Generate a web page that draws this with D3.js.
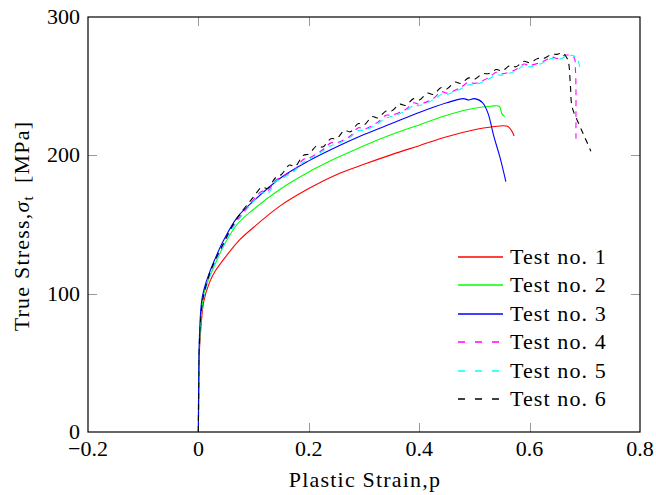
<!DOCTYPE html>
<html lang="en">
<head>
    <meta charset="utf-8">
    <style>
        body { margin: 0; background: #fff; }
        text { font-family: "Liberation Serif", "DejaVu Serif", serif; fill: #000; }
        .tick-label { font-size: 22px; }
        .legend-label { font-size: 22px; letter-spacing: 1.1px; }
        .title { font-size: 22px; letter-spacing: 1.2px; }
    </style>
    <script src="https://d3js.org/d3.v7.min.js"></script>
</head>
<body>
    <svg width="656" height="495"></svg>
    <script>
        // data, [strain, stress]
        var test1 = [[0,0],[0.001,40],[0.002,60],[0.005,78],[0.01,95],[0.02,108],[0.03,116],[0.05,127],[0.075,139],[0.1,148],[0.15,164],[0.2,176],[0.25,186],[0.3,193.5],[0.35,200.5],[0.4,207],[0.45,213.5],[0.5,218.5],[0.53,220.5],[0.56,221],[0.567,218],[0.572,214]];
        var test2 = [[0,0],[0.001,50],[0.003,72],[0.006,88],[0.01,100],[0.02,112],[0.03,121],[0.045,134],[0.07,150],[0.1,161],[0.15,176],[0.2,188],[0.25,198],[0.3,207],[0.35,215],[0.4,222],[0.45,229],[0.5,234],[0.53,235.5],[0.545,235.5],[0.55,230],[0.555,228]];
        var test3 = [[0,0],[0.001,55],[0.003,80],[0.006,95],[0.01,103],[0.018,113],[0.03,125],[0.045,138],[0.07,155],[0.1,167],[0.15,184],[0.2,196],[0.25,206],[0.3,215],[0.35,223],[0.4,231],[0.45,238],[0.48,241],[0.49,240],[0.5,241],[0.515,238],[0.525,230],[0.535,214],[0.546,199],[0.557,181]];
        var test4 = [[0,0],[0.001,48],[0.003,73],[0.006,89],[0.01,99],[0.02,113],[0.03,123],[0.045,135],[0.06,147],[0.08,158],[0.1,168],[0.115,174],[0.125,174],[0.14,182],[0.15,184],[0.175,190],[0.19,197],[0.2,198],[0.225,204],[0.24,209],[0.25,209],[0.275,214],[0.29,220],[0.3,219],[0.325,224],[0.34,229],[0.35,229],[0.375,233],[0.39,238],[0.4,237],[0.425,241],[0.44,246],[0.45,245],[0.475,249],[0.49,253],[0.5,252],[0.525,256],[0.54,260],[0.55,259],[0.575,262],[0.59,266],[0.6,265],[0.625,268],[0.64,271],[0.65,270],[0.665,272.5],[0.68,271],[0.683,262],[0.684,247],[0.684,230],[0.684,212]];
        var test5 = [[0,0],[0.001,47],[0.003,72],[0.006,88],[0.01,98],[0.02,112],[0.03,122],[0.045,134],[0.06,146],[0.08,157],[0.1,167],[0.115,173],[0.125,172],[0.14,181],[0.15,183],[0.175,189],[0.19,195],[0.2,197],[0.225,203],[0.24,207],[0.25,208],[0.275,213],[0.29,218],[0.3,218],[0.325,223],[0.34,227],[0.35,228],[0.375,232],[0.39,236],[0.4,236],[0.425,240],[0.44,244],[0.45,244],[0.475,248],[0.49,251],[0.5,251],[0.525,255],[0.54,258],[0.55,258],[0.575,261],[0.59,265],[0.6,264],[0.625,267],[0.64,270],[0.65,269],[0.67,272],[0.68,272],[0.688,268],[0.692,262]];
        var test6 = [[0,0],[0.001,50],[0.003,75],[0.006,90],[0.01,100],[0.02,114],[0.03,124],[0.045,136],[0.06,148],[0.08,160],[0.1,170],[0.115,177],[0.125,176],[0.14,184],[0.15,186],[0.165,193],[0.175,192],[0.19,200],[0.2,201],[0.215,207],[0.225,206],[0.24,212],[0.25,212],[0.265,218],[0.275,217],[0.29,223],[0.3,222],[0.315,228],[0.325,227],[0.34,232],[0.35,232],[0.365,237],[0.375,236],[0.39,241],[0.4,240],[0.415,245],[0.425,244],[0.44,249],[0.45,248],[0.465,253],[0.475,252],[0.49,256],[0.5,255],[0.515,259],[0.525,259],[0.54,262],[0.55,261],[0.565,265],[0.575,264],[0.59,268],[0.6,267],[0.615,270],[0.625,270],[0.64,273],[0.65,273],[0.66,274],[0.665,272],[0.67,268],[0.674,250],[0.677,235],[0.69,222],[0.7,213],[0.711,203]];

        var seriesNames = ["Test no. 1", "Test no. 2", "Test no. 3", "Test no. 4", "Test no. 5", "Test no. 6"];
        var seriesData = [test1, test2, test3, test4, test5, test6];
        var seriesColors = ["#ff0000", "#00ff00", "#0000ff", "#ff00ff", "#00ffff", "#000000"];
        var seriesDashed = [false, false, false, true, true, true];

        var xTicks = [-0.2, 0, 0.2, 0.4, 0.6, 0.8];
        var yTicks = [0, 100, 200, 300];

        var svg = d3.select("svg");
        // plot box (avoid "top", it's window.top)
        var pLeft = 88, pRight = 640, pTop = 17, pBottom = 432;

        var x = d3.scaleLinear().domain([-0.2, 0.8]).range([pLeft, pRight]);
        var y = d3.scaleLinear().domain([0, 300]).range([pBottom, pTop]);

        var tickLen = 9;

        // inward ticks on all four sides
        var ticks = svg.append("g").attr("stroke", "#999").attr("stroke-width", 1);
        xTicks.slice(1, -1).forEach(function(t) {
            var tx = Math.round(x(t)) + 0.5;
            ticks.append("line").attr("x1", tx).attr("x2", tx).attr("y1", pBottom).attr("y2", pBottom - tickLen);
            ticks.append("line").attr("x1", tx).attr("x2", tx).attr("y1", pTop).attr("y2", pTop + tickLen);
        });
        yTicks.slice(1, -1).forEach(function(t) {
            var ty = Math.round(y(t)) + 0.5;
            ticks.append("line").attr("x1", pLeft).attr("x2", pLeft + tickLen).attr("y1", ty).attr("y2", ty);
            ticks.append("line").attr("x1", pRight).attr("x2", pRight - tickLen).attr("y1", ty).attr("y2", ty);
        });

        var line = d3.line()
            .curve(d3.curveCatmullRom.alpha(0.5))
            .x(function(d) { return x(d[0]); })
            .y(function(d) { return y(d[1]); });

        svg.append("defs").append("clipPath").attr("id", "plot")
            .append("rect").attr("x", pLeft).attr("y", pTop).attr("width", pRight - pLeft).attr("height", pBottom - pTop);

        var plot = svg.append("g").attr("clip-path", "url(#plot)");
        seriesData.forEach(function(data, i) {
            plot.append("path")
                .datum(data)
                .attr("fill", "none")
                .attr("stroke", seriesColors[i])
                .attr("stroke-width", 1.1)
                .attr("stroke-dasharray", seriesDashed[i] ? "6,5" : null)
                .attr("d", line);
        });

        // frame
        svg.append("rect")
            .attr("x", pLeft).attr("y", pTop)
            .attr("width", pRight - pLeft).attr("height", pBottom - pTop)
            .attr("fill", "none").attr("stroke", "#000").attr("stroke-width", 1.2);

        // tick labels
        svg.append("g").selectAll("text")
            .data(xTicks).enter().append("text")
            .attr("class", "tick-label")
            .attr("x", function(d) { return x(d); })
            .attr("y", 456)
            .attr("text-anchor", "middle")
            .text(function(d) { return d < 0 ? "\u2212" + Math.abs(d) : d; });

        svg.append("g").selectAll("text")
            .data(yTicks).enter().append("text")
            .attr("class", "tick-label")
            .attr("x", 80)
            .attr("y", function(d) { return y(d) + 7; })
            .attr("text-anchor", "end")
            .text(function(d) { return d; });

        // axis titles
        svg.append("text")
            .attr("class", "title")
            .attr("x", 365).attr("y", 487)
            .attr("text-anchor", "middle")
            .text("Plastic Strain,p");

        var yl = svg.append("text")
            .attr("class", "title")
            .attr("transform", "translate(29,226) rotate(-90)")
            .attr("text-anchor", "middle");
        yl.append("tspan").text("True Stress,");
        yl.append("tspan").attr("font-style", "italic").text("\u03c3");
        yl.append("tspan").attr("font-size", "15px").attr("dy", 4).text("t");
        yl.append("tspan").attr("dy", -4).text("\u2002[MPa]");

        // legend
        var legend = svg.append("g");
        seriesNames.forEach(function(name, i) {
            var ly = Math.round(257 + i * 28.4);
            legend.append("line")
                .attr("x1", 458).attr("x2", 503)
                .attr("y1", ly).attr("y2", ly)
                .attr("stroke", seriesColors[i])
                .attr("stroke-width", 1.3)
                .attr("stroke-dasharray", seriesDashed[i] ? "7,10" : null);
            legend.append("text")
                .attr("class", "legend-label")
                .attr("x", 510).attr("y", ly + 7)
                .text(name);
        });
    </script>
</body>
</html>
